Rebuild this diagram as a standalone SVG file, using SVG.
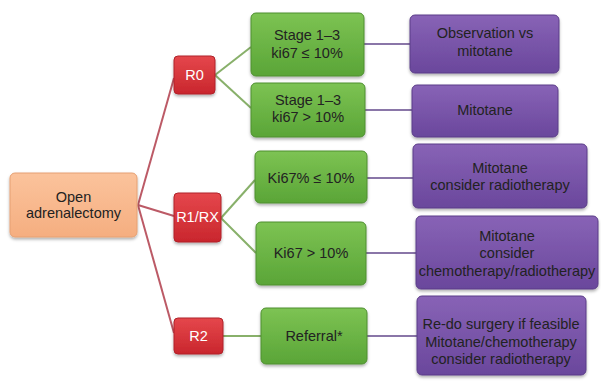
<svg xmlns="http://www.w3.org/2000/svg" width="601" height="382" viewBox="0 0 601 382">
<defs>
<linearGradient id="gOr" x1="0" y1="0" x2="0" y2="1"><stop offset="0" stop-color="#fbc39c"/><stop offset="1" stop-color="#f5ae80"/></linearGradient>
<linearGradient id="gRd" x1="0" y1="0" x2="0" y2="1"><stop offset="0" stop-color="#e5474c"/><stop offset="1" stop-color="#c9262d"/></linearGradient>
<linearGradient id="gGr" x1="0" y1="0" x2="0" y2="1"><stop offset="0" stop-color="#7dc353"/><stop offset="1" stop-color="#5aa537"/></linearGradient>
<linearGradient id="gPu" x1="0" y1="0" x2="0" y2="1"><stop offset="0" stop-color="#8863b6"/><stop offset="1" stop-color="#6a479c"/></linearGradient>
<filter id="sh" x="-10%" y="-10%" width="130%" height="140%"><feDropShadow dx="0" dy="2" stdDeviation="1.5" flood-color="#000" flood-opacity="0.3"/></filter>
</defs>
<style>
text{font-family:"Liberation Sans",Arial,sans-serif;font-size:14.5px;text-anchor:middle;dominant-baseline:central;fill:#222}
.or{fill:url(#gOr);stroke:#e6a072;stroke-width:1}
.rd{fill:url(#gRd);stroke:#b0222a;stroke-width:1}
.gr{fill:url(#gGr);stroke:#4f8f31;stroke-width:1}
.pu{fill:url(#gPu);stroke:#5b3d88;stroke-width:1}
rect{filter:url(#sh)}
.rt{fill:#fff}
.cr{stroke:#bc5a66;stroke-width:2;fill:none}
.cg{stroke:#88b06a;stroke-width:2;fill:none}
.cp{stroke:#8a76a8;stroke-width:2;fill:none}
</style>
<g id="connectors">
<path class="cr" d="M138,205 L174,78"/>
<path class="cr" d="M138,205 L174,216"/>
<path class="cr" d="M138,205 L174,333"/>
<path class="cg" d="M215,75 L251,47"/>
<path class="cg" d="M215,75 L251,108"/>
<path class="cg" d="M221,218 L255,180"/>
<path class="cg" d="M221,218 L256,253"/>
<path class="cg" d="M223,336 L261,336"/>
<path class="cp" d="M364,44 L410,44"/>
<path class="cp" d="M365,110 L412,110"/>
<path class="cp" d="M367,178 L413,178"/>
<path class="cp" d="M366,253 L416,253"/>
<path class="cp" d="M367,336 L417,336"/>
</g>
<g id="open"><rect class="or" x="10" y="173" width="127" height="64" rx="5"/><text x="73.5" y="197">Open</text><text x="73.5" y="213">adrenalectomy</text></g>
<g id="r0"><rect class="rd" x="174" y="56" width="41" height="38" rx="4"/><text class="rt" x="194.5" y="75">R0</text></g>
<g id="r1"><rect class="rd" x="174" y="193" width="47" height="49" rx="4"/><text class="rt" x="197.5" y="217">R1/RX</text></g>
<g id="r2"><rect class="rd" x="174" y="318" width="49" height="36" rx="4"/><text class="rt" x="198.5" y="336">R2</text></g>
<g id="g1"><rect class="gr" x="251" y="13" width="113" height="63" rx="5"/><text x="307" y="35">Stage 1–3</text><text x="307" y="53">ki67 ≤ 10%</text></g>
<g id="g2"><rect class="gr" x="251" y="83" width="114" height="54" rx="5"/><text x="308" y="100">Stage 1–3</text><text x="308" y="117">ki67 &gt; 10%</text></g>
<g id="g3"><rect class="gr" x="255" y="151" width="112" height="52" rx="5"/><text x="311" y="178">Ki67% ≤ 10%</text></g>
<g id="g4"><rect class="gr" x="256" y="222" width="110" height="63" rx="5"/><text x="311" y="253">Ki67 &gt; 10%</text></g>
<g id="g5"><rect class="gr" x="261" y="308" width="106" height="56" rx="5"/><text x="314" y="336">Referral*</text></g>
<g id="p1"><rect class="pu" x="410" y="15" width="149" height="58" rx="5"/><text x="485" y="33">Observation vs</text><text x="485" y="51">mitotane</text></g>
<g id="p2"><rect class="pu" x="412" y="85" width="146" height="52" rx="5"/><text x="485" y="110">Mitotane</text></g>
<g id="p3"><rect class="pu" x="413" y="144" width="174" height="64" rx="5"/><text x="500" y="168">Mitotane</text><text x="500" y="185">consider radiotherapy</text></g>
<g id="p4"><rect class="pu" x="416" y="216" width="182" height="73" rx="5"/><text x="507" y="236">Mitotane</text><text x="507" y="253">consider</text><text x="507" y="271">chemotherapy/radiotherapy</text></g>
<g id="p5"><rect class="pu" x="417" y="296" width="169" height="79" rx="5"/><text x="501" y="324">Re-do surgery if feasible</text><text x="501" y="342">Mitotane/chemotherapy</text><text x="501" y="359">consider radiotherapy</text></g>
</svg>
